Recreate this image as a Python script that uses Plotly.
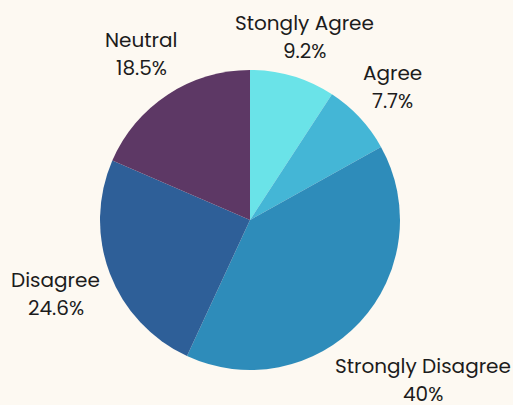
import math
import plotly.graph_objects as go

labels = ["Stongly Agree", "Agree", "Strongly Disagree", "Disagree", "Neutral"]
values = [9.2, 7.7, 40.0, 24.6, 18.5]
colors = ["#6ae3e8", "#44b6d6", "#2e8cba", "#2e5f98", "#5d3865"]

W, H = 513, 405
CX, CY, R = 250, 220, 150          # pie centre (px from top-left) and radius
FS = 20
GAP = 160                           # min px distance of label box from centre
PITCH = 28                          # px between the two label lines
HH = 23                             # half height of a two-line label box

fig = go.Figure()
fig.add_trace(go.Pie(
    labels=labels,
    values=values,
    sort=False,
    direction="clockwise",
    rotation=0,
    marker=dict(colors=colors, line=dict(width=0)),
    textinfo="none",
    showlegend=False,
    hoverinfo="label+percent",
    domain=dict(x=[(CX - R) / W, (CX + R) / W],
                y=[(H - CY - R) / H, (H - CY + R) / H]),
))


def box_dist(r, sx, sy, hw, hh):
    cx, cy = abs(r * sx), abs(r * sy)
    return math.hypot(max(0.0, cx - hw), max(0.0, cy - hh))


font = dict(family="Poppins, Open Sans, sans-serif", size=FS, color="#1c1c1c")
total = sum(values)
cum = 0.0
for lab, v in zip(labels, values):
    mid = (cum + v / 2) / total * 2 * math.pi
    cum += v
    sx, sy = math.sin(mid), math.cos(mid)
    hw = 0.53 * FS * len(lab) / 2
    lo, hi = 0.0, 600.0
    for _ in range(60):
        m = (lo + hi) / 2
        if box_dist(m, sx, sy, hw, HH) < GAP:
            lo = m
        else:
            hi = m
    r = (lo + hi) / 2
    bx, by = r * sx / R, r * sy / R
    for txt, off in ((lab, PITCH / 2), (f"{v:g}%", -PITCH / 2)):
        fig.add_annotation(
            x=bx, y=by + off / R, xref="x", yref="y",
            text=txt, showarrow=False,
            xanchor="center", yanchor="middle", align="center",
            font=font,
        )

fig.update_layout(
    width=W, height=H,
    margin=dict(l=0, r=0, t=0, b=0),
    paper_bgcolor="#fdf9f2",
    plot_bgcolor="rgba(0,0,0,0)",
    xaxis=dict(range=[-CX / R, (W - CX) / R], visible=False, fixedrange=True),
    yaxis=dict(range=[-(H - CY) / R, CY / R], visible=False, fixedrange=True),
)

fig.write_html("out.html", config={"displayModeBar": False},
               post_script="document.body.style.margin='0';")
